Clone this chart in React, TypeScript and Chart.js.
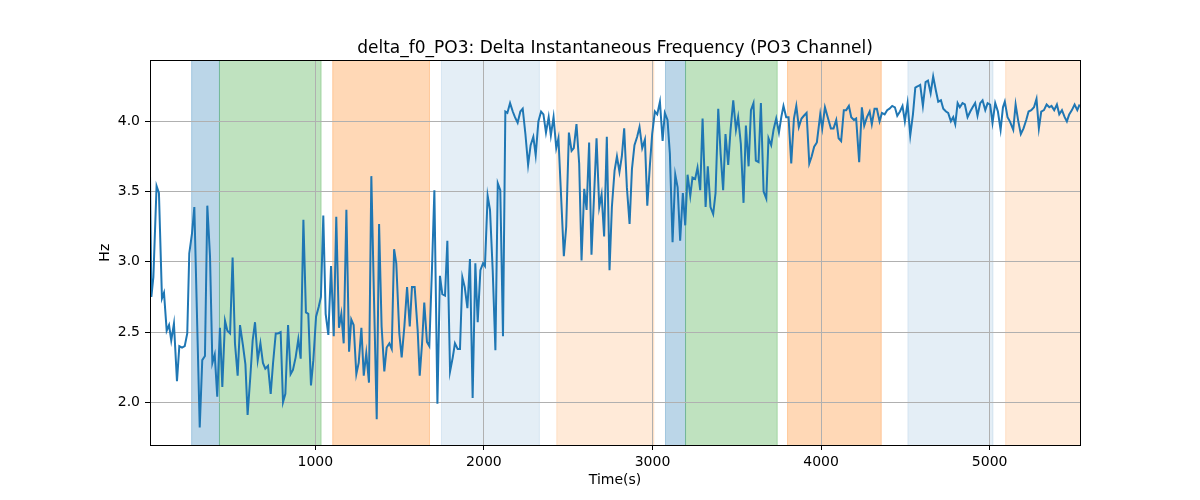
import React, { useEffect, useRef } from "react";
import { Chart, registerables } from "chart.js";

Chart.register(...registerables);

const titleText = "delta_f0_PO3: Delta Instantaneous Frequency (PO3 Channel)";
const xLabel = "Time(s)";
const yLabel = "Hz";

const times = [
  19, 27, 39, 58, 72, 90, 102, 118, 132, 145, 161, 179, 193, 209, 225, 240, 252, 268, 282, 314,
  329, 345, 359, 375, 389, 403, 418, 434, 448, 464, 478, 494, 509, 523, 539, 553, 571, 585, 598, 614,
  628, 642, 658, 674, 689, 703, 719, 735, 749, 765, 778, 794,
  808, 822, 838, 853, 867, 883, 899, 913, 929, 944, 958, 974, 988, 1004, 1020, 1033, 1047, 1061,
  1077, 1093, 1109, 1124, 1140, 1154, 1168, 1184, 1200, 1213, 1227, 1243, 1257, 1273, 1287, 1302,
  1318, 1332, 1348, 1364, 1378, 1393, 1409, 1423, 1439, 1453, 1467, 1480, 1498, 1512, 1528, 1544,
  1560, 1573, 1589,
  1607, 1619, 1633, 1646, 1662, 1676, 1692, 1706, 1724, 1739, 1753, 1769, 1783, 1799, 1815, 1828,
  1844, 1858, 1872, 1886, 1902, 1917, 1933, 1949, 1963, 1979, 1995, 2006, 2022, 2036, 2052, 2068,
  2082, 2097, 2113, 2127, 2139, 2155, 2171, 2184, 2200, 2216, 2230, 2246, 2262, 2277, 2293, 2307,
  2323, 2339, 2353, 2368, 2384,
  2397, 2413, 2429, 2442, 2474, 2488, 2504, 2520, 2533, 2549, 2565, 2579, 2595, 2609, 2624, 2638,
  2654, 2668, 2684, 2698, 2713, 2729, 2745, 2759, 2775, 2789, 2804, 2818, 2832, 2848, 2864, 2878,
  2893, 2909, 2923, 2939, 2955, 2969, 2984, 2998, 3014, 3028, 3044, 3060, 3073, 3089, 3103, 3119,
  3135, 3149, 3164, 3180,
  3194, 3208, 3224, 3237, 3253, 3267, 3283, 3297, 3315, 3328, 3344, 3360, 3374, 3390, 3404, 3419,
  3433, 3449, 3463, 3479, 3495, 3508, 3524, 3540, 3554, 3570, 3584, 3599, 3613, 3629, 3643, 3659,
  3675, 3688, 3704, 3718, 3734, 3750, 3764, 3777, 3793, 3807, 3823, 3839, 3853, 3868, 3884, 3898,
  3914, 3930, 3944, 3959, 3975,
  3995, 4007, 4023, 4044, 4058, 4074, 4090, 4104, 4119, 4135, 4149, 4165, 4179, 4195, 4208, 4226,
  4242, 4256, 4272, 4288, 4301, 4317, 4331, 4347, 4361, 4377, 4392, 4406, 4422, 4438, 4452, 4468,
  4483, 4497, 4513, 4529, 4545, 4559, 4574, 4588, 4604, 4620, 4634, 4650, 4665, 4681, 4695, 4711,
  4725, 4741, 4754, 4770,
  4784, 4796, 4810, 4823, 4839, 4853, 4869, 4885, 4899, 4914, 4928, 4944, 4958, 4974, 4988, 5003,
  5017, 5033, 5049, 5065, 5079, 5090, 5106, 5120, 5140, 5154, 5170, 5185, 5201, 5217, 5231, 5247,
  5263, 5278, 5292, 5306, 5322, 5338, 5354, 5367, 5383, 5399, 5413, 5429, 5445, 5458, 5472, 5488,
  5504, 5520, 5534,
];

const values = [
  3.63, 2.75, 2.89, 3.54, 3.49, 2.74, 2.78, 2.51, 2.55, 2.44, 2.56, 2.15, 2.40, 2.39, 2.40, 2.49, 3.06, 3.20, 3.39, 1.82,
  2.30, 2.33, 3.40, 3.04, 2.28, 2.34, 2.04, 2.53, 2.11, 2.58, 2.51, 2.49, 3.03, 2.42, 2.19, 2.55, 2.40, 2.27, 1.91, 2.18,
  2.44, 2.57, 2.30, 2.42, 2.28, 2.24, 2.26, 2.06, 2.28, 2.49, 2.49, 2.50,
  2.00, 2.06, 2.55, 2.20, 2.23, 2.32, 2.45, 2.31, 3.30, 2.64, 2.63, 2.12, 2.30, 2.61, 2.68, 2.75, 3.33, 2.63,
  2.48, 2.97, 2.47, 3.32, 2.53, 2.63, 2.42, 3.37, 2.36, 2.59, 2.55, 2.20, 2.28, 2.53, 2.19, 2.35,
  2.14, 3.61, 2.73, 1.88, 3.27, 2.54, 2.22, 2.39, 2.42, 2.38, 3.09, 2.99, 2.49, 2.32, 2.54, 2.82,
  2.54, 2.82, 2.82,
  2.51, 2.19, 2.42, 2.71, 2.43, 2.40, 2.96, 3.51, 1.99, 2.90, 2.77, 2.76, 3.15, 2.22, 2.32, 2.42,
  2.38, 2.38, 2.89, 2.82, 2.67, 3.02, 2.03, 2.99, 2.57, 2.94, 2.99, 2.97, 3.47, 3.37, 2.94, 2.37,
  3.56, 3.51, 2.47, 4.07, 4.06, 4.13, 4.07, 4.03, 3.99, 4.07, 4.09, 3.91, 3.69, 3.83, 3.89, 3.76,
  4.00, 4.07, 4.05, 3.92, 4.03,
  3.90, 4.03, 3.81, 3.88, 3.04, 3.25, 3.92, 3.79, 3.81, 3.98, 3.70, 3.01, 3.52, 3.37, 3.85, 3.05,
  3.49, 3.88, 3.39, 3.48, 3.18, 3.89, 2.94, 3.39, 3.65, 3.75, 3.64, 3.75, 3.95, 3.53, 3.27, 3.66,
  3.83, 3.89, 3.96, 3.81, 3.87, 3.40, 3.68, 3.91, 4.07, 4.05, 4.14, 3.86, 4.06, 4.01, 3.77, 3.14,
  3.62, 3.53, 3.15, 3.49,
  3.26, 3.62, 3.47, 3.60, 3.59, 3.67, 3.51, 4.02, 3.39, 3.68, 3.39, 3.34, 3.49, 4.09, 3.77, 3.51,
  3.91, 3.69, 3.94, 4.15, 3.94, 4.03, 3.84, 3.42, 3.97, 3.68, 4.08, 4.13, 3.72, 3.71, 4.13, 3.50,
  3.45, 3.88, 3.83, 3.94, 4.02, 3.92, 4.03, 4.11, 4.03, 4.03, 3.70, 4.02, 4.11, 3.96, 4.02, 4.04,
  4.06, 3.70, 3.75, 3.82, 3.85,
  4.05, 3.95, 4.10, 4.01, 3.95, 3.95, 4.01, 3.88, 3.86, 4.08, 4.08, 4.11, 4.03, 4.01, 4.02, 3.71,
  4.10, 3.97, 4.03, 4.07, 3.98, 4.09, 4.09, 4.00, 4.06, 4.05, 4.08, 4.09, 4.11, 4.10, 4.04, 4.07,
  4.11, 4.00, 4.13, 3.90, 4.05, 4.24, 4.25, 4.26, 4.11, 4.28, 4.29, 4.20, 4.32, 4.22, 4.14, 4.15,
  4.09, 4.07, 4.06, 4.00,
  4.03, 3.98, 4.13, 4.10, 4.13, 4.12, 4.03, 4.07, 4.10, 4.13, 4.04, 4.13, 4.15, 4.08, 4.13, 4.12,
  3.99, 4.13, 4.07, 3.94, 4.10, 4.14, 4.03, 4.00, 3.94, 4.12, 4.00, 3.91, 3.95, 4.01, 4.07, 4.08,
  4.10, 4.16, 3.95, 4.07, 4.08, 4.12, 4.10, 4.11, 4.08, 4.12, 4.05, 4.08, 4.03, 4.00, 4.05, 4.08,
  4.12, 4.08, 4.12,
];

const xTicks = [1000, 2000, 3000, 4000, 5000];
const yTicks = [2.0, 2.5, 3.0, 3.5, 4.0];
const xMin = 19;
const xMax = 5536;
const yMin = 1.696;
const yMax = 4.434;

const spanStarts = [266, 431, 1103, 1748, 2432, 3077, 3196, 3801, 4515, 5095];
const spanEnds = [431, 1034, 1677, 2329, 3008, 3196, 3740, 4357, 5020, 5560];
const spanColors = [
  "rgba(31,119,180,0.3)",
  "rgba(44,160,44,0.3)",
  "rgba(255,127,14,0.3)",
  "rgba(31,119,180,0.12)",
  "rgba(255,127,14,0.16)",
  "rgba(31,119,180,0.3)",
  "rgba(44,160,44,0.3)",
  "rgba(255,127,14,0.3)",
  "rgba(31,119,180,0.12)",
  "rgba(255,127,14,0.16)",
];

const FONT = "'DejaVu Sans', sans-serif";

const spansPlugin = {
  id: "spans",
  beforeDraw(chart: any) {
    const { ctx, chartArea, scales } = chart;
    const x = scales.x;
    ctx.save();
    ctx.beginPath();
    ctx.rect(chartArea.left, chartArea.top, chartArea.right - chartArea.left, chartArea.bottom - chartArea.top);
    ctx.clip();
    for (let i = 0; i < spanStarts.length; i++) {
      const x0 = x.getPixelForValue(spanStarts[i]);
      const x1 = x.getPixelForValue(spanEnds[i]);
      ctx.fillStyle = spanColors[i];
      ctx.fillRect(x0, chartArea.top, x1 - x0, chartArea.bottom - chartArea.top);
      ctx.strokeStyle = spanColors[i];
      ctx.lineWidth = 1;
      ctx.beginPath();
      ctx.moveTo(x0, chartArea.top);
      ctx.lineTo(x0, chartArea.bottom);
      ctx.moveTo(x1, chartArea.top);
      ctx.lineTo(x1, chartArea.bottom);
      ctx.stroke();
    }
    ctx.restore();
  },
};

const framePlugin = {
  id: "frame",
  afterDatasetsDraw(chart: any) {
    const { ctx, chartArea } = chart;
    ctx.save();
    ctx.strokeStyle = "#000";
    ctx.lineWidth = 1;
    ctx.strokeRect(
      Math.round(chartArea.left) + 0.5,
      Math.round(chartArea.top) + 0.5,
      Math.round(chartArea.right - chartArea.left),
      Math.round(chartArea.bottom - chartArea.top)
    );
    ctx.restore();
  },
};

export default function App() {
  const canvasRef = useRef<HTMLCanvasElement | null>(null);

  useEffect(() => {
    if (!canvasRef.current) return;
    const chart = new Chart(canvasRef.current, {
      type: "line",
      data: {
        datasets: [
          {
            data: times.map((t, i) => ({ x: t, y: values[i] })),
            borderColor: "#1f77b4",
            borderWidth: 2,
            pointRadius: 0,
            tension: 0,
            fill: false,
          },
        ],
      },
      options: {
        animation: false,
        responsive: false,
        devicePixelRatio: 1,
        layout: { padding: { left: 0, right: 120, top: 0, bottom: 0 } },
        plugins: {
          legend: { display: false },
          tooltip: { enabled: false },
          title: {
            display: true,
            text: titleText,
            fullSize: false,
            color: "#000",
            font: { family: FONT, size: 17, weight: "normal", lineHeight: 1.2 },
            padding: { top: 38, bottom: 2 },
          },
        },
        scales: {
          x: {
            type: "linear",
            min: xMin,
            max: xMax,
            afterBuildTicks: (s: any) => {
              s.ticks = xTicks.map((v) => ({ value: v }));
            },
            afterFit: (s: any) => {
              s.height = 55;
            },
            ticks: {
              color: "#000",
              font: { family: FONT, size: 14 },
              padding: 4,
              maxRotation: 0,
              autoSkip: false,
              callback: (v: any) => String(v),
            },
            grid: { color: "#b0b0b0", lineWidth: 1, tickColor: "#000", tickLength: 5, drawTicks: true },
            border: { display: false },
            title: {
              display: true,
              text: xLabel,
              color: "#000",
              font: { family: FONT, size: 14 },
              padding: { top: 0, bottom: 11 },
            },
          },
          y: {
            type: "linear",
            min: yMin,
            max: yMax,
            afterBuildTicks: (s: any) => {
              s.ticks = yTicks.map((v) => ({ value: v }));
            },
            afterFit: (s: any) => {
              s.width = 150;
            },
            ticks: {
              color: "#000",
              font: { family: FONT, size: 14 },
              padding: 5,
              callback: (v: any) => Number(v).toFixed(1),
            },
            grid: { color: "#b0b0b0", lineWidth: 1, tickColor: "#000", tickLength: 5, drawTicks: true },
            border: { display: false },
            title: {
              display: true,
              text: yLabel,
              color: "#000",
              font: { family: FONT, size: 14 },
              padding: { top: 97, bottom: 0 },
            },
          },
        },
      } as any,
      plugins: [spansPlugin, framePlugin],
    });
    return () => chart.destroy();
  }, []);

  return (
    <div style={{ position: "absolute", left: 0, top: 0, width: 1200, height: 500, background: "#fff" }}>
      <canvas ref={canvasRef} width={1200} height={500} />
    </div>
  );
}
